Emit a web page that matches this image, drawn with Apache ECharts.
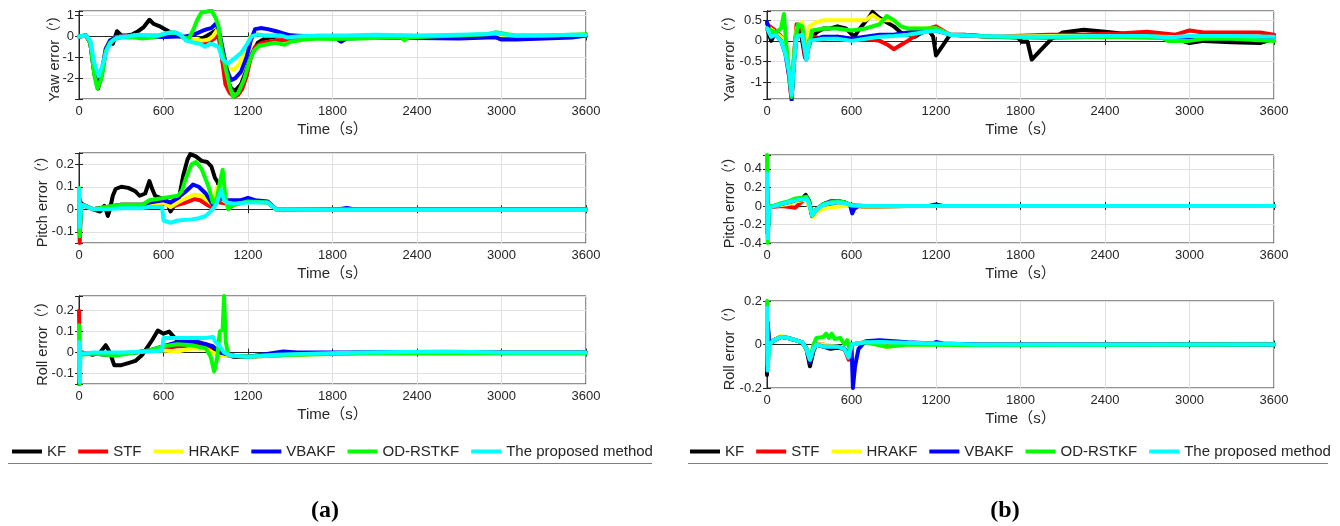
<!DOCTYPE html>
<html><head><meta charset="utf-8">
<script src="https://cdn.jsdelivr.net/npm/echarts@6/dist/echarts.min.js"></script>
<style>html,body{margin:0;padding:0;background:#fff}#c{width:1340px;height:526px}</style>
</head><body><div id="c"></div>
<script>
// ---------- names / colours ----------
const NAMES = ['KF','STF','HRAKF','VBAKF','OD-RSTKF','The proposed method'];
const COLORS = ['#000000','#ff0000','#ffff00','#0000ff','#00ff00','#00ffff'];
const X_TICKS = [0,600,1200,1800,2400,3000,3600];
const Y_TICKS_YAW_A = [-2,-1,0,1];
const Y_TICKS_PITCH_A = [-0.1,0,0.1,0.2];
const Y_TICKS_ROLL_A = [-0.1,0,0.1,0.2];
const Y_TICKS_YAW_B = [-1,-0.5,0,0.5];
const Y_TICKS_PITCH_B = [-0.4,-0.2,0,0.2,0.4];
const Y_TICKS_ROLL_B = [-0.2,0,0.2];

// ---------- (a) Yaw ----------
const yawA_KF = [[0,0],[50,0.05],[80,-0.3],[110,-1.8],[135,-2.5],[160,-1.9],[190,-0.7],[215,-0.3],[240,-0.35],[270,0.25],[300,0.05],[340,0.05],[380,0.1],[420,0.25],[460,0.45],[500,0.8],[530,0.6],[570,0.5],[610,0.35],[650,0.2],[700,0.05],[760,-0.1],[820,-0.2],[860,-0.15],[900,0.0],[940,0.15],[975,0.3],[995,0.1],[1020,-1.2],[1050,-2.0],[1080,-2.5],[1110,-2.6],[1150,-2.3],[1190,-1.6],[1230,-0.8],[1270,-0.3],[1320,-0.1],[1400,0],[1500,0.05],[1700,0.0],[1900,-0.02],[2200,0.0],[2500,-0.02],[2800,0.0],[3000,0.02],[3200,-0.02],[3400,0.0],[3600,0.03]];
const yawA_STF = [[0,0],[50,0.05],[80,-0.3],[110,-1.8],[135,-2.4],[160,-1.8],[190,-0.6],[220,-0.2],[260,-0.05],[300,0],[400,0.05],[500,0.05],[600,0.05],[700,0.05],[760,-0.1],[820,-0.2],[880,-0.3],[910,-0.35],[940,-0.2],[970,-0.05],[990,0.05],[1010,-0.8],[1040,-2.3],[1070,-2.7],[1100,-2.9],[1130,-2.8],[1160,-2.5],[1190,-1.9],[1220,-1.0],[1250,-0.5],[1300,-0.3],[1400,-0.2],[1500,-0.15],[1600,-0.1],[1800,-0.05],[2000,0],[2400,0],[2800,0],[3000,0.05],[3200,0],[3600,0.02]];
const yawA_HRAKF = [[0,0],[50,0.05],[80,-0.3],[110,-1.8],[135,-2.4],[160,-1.8],[190,-0.6],[220,-0.2],[260,-0.05],[300,0],[400,0.05],[500,0.05],[600,0.05],[700,0.05],[760,-0.1],[820,-0.15],[880,-0.2],[920,-0.15],[950,0.0],[980,0.3],[1000,0.1],[1030,-1.0],[1060,-1.5],[1100,-1.6],[1140,-1.3],[1180,-0.7],[1210,-0.1],[1240,0.2],[1270,0.1],[1320,0.05],[1400,0.05],[1600,0],[2000,0],[2400,0],[3000,0.05],[3600,0.05]];
const yawA_VBAKF = [[0,0],[50,0.05],[80,-0.3],[110,-1.8],[135,-2.4],[160,-1.8],[190,-0.6],[220,-0.2],[260,-0.05],[300,0],[400,0.0],[500,0.0],[600,-0.03],[700,0.0],[760,0.0],[820,0.1],[870,0.25],[910,0.35],[940,0.4],[970,0.6],[990,0.4],[1020,-0.6],[1050,-1.6],[1080,-2.1],[1110,-2.0],[1150,-1.7],[1190,-1.0],[1220,-0.2],[1250,0.35],[1290,0.4],[1340,0.35],[1400,0.25],[1450,0.15],[1500,0.05],[1600,-0.02],[1750,-0.05],[1830,-0.1],[1860,-0.25],[1900,-0.1],[2100,-0.05],[2400,-0.08],[2700,-0.1],[2900,-0.05],[2960,-0.05],[3000,-0.15],[3100,-0.15],[3300,-0.1],[3500,-0.05],[3600,0.05]];
const yawA_OD = [[0,0],[50,0.05],[80,-0.3],[110,-1.9],[130,-2.5],[160,-2.0],[190,-0.7],[220,-0.3],[260,-0.1],[300,-0.05],[400,-0.05],[450,-0.1],[520,-0.05],[600,0.1],[650,0.2],[700,0.15],[740,-0.05],[780,-0.1],[810,0.3],[840,0.8],[870,1.15],[910,1.2],[940,1.25],[970,0.9],[990,0.5],[1010,-0.5],[1040,-1.5],[1070,-2.4],[1095,-2.9],[1130,-2.7],[1170,-2.1],[1210,-1.2],[1240,-0.7],[1280,-0.45],[1320,-0.4],[1390,-0.3],[1430,-0.35],[1460,-0.4],[1500,-0.25],[1600,-0.15],[1700,-0.1],[1800,-0.12],[2000,-0.1],[2200,-0.05],[2290,-0.05],[2310,-0.18],[2340,-0.05],[2500,0.0],[2700,0.05],[2900,0.1],[2960,0.2],[3050,0.1],[3100,0.05],[3300,0.05],[3500,0.08],[3600,0.1]];
const yawA_PM = [[0,0],[50,0.05],[80,-0.2],[110,-1.3],[140,-1.9],[170,-1.3],[200,-0.6],[230,-0.25],[270,-0.05],[350,0.0],[420,0.08],[500,0.05],[560,0.05],[620,0.15],[670,0.2],[720,0.1],[760,-0.2],[820,-0.3],[860,-0.35],[895,-0.5],[930,-0.35],[960,-0.4],[990,-0.5],[1020,-1.1],[1060,-1.3],[1095,-1.1],[1150,-0.8],[1190,-0.4],[1225,0.0],[1270,0.1],[1320,0.05],[1430,0.05],[1480,-0.05],[1550,0.0],[1700,0.05],[1900,0.05],[2100,0.08],[2400,0.05],[2700,0.08],[2900,0.12],[2950,0.18],[3000,0.12],[3100,0.03],[3300,0.05],[3500,0.08],[3600,0.07]];

// ---------- (a) Pitch ----------
const pitchA_KF = [[0,0.05],[10,0.03],[30,0.02],[100,0.0],[150,-0.01],[180,0.015],[195,-0.01],[205,-0.03],[220,0.0],[240,0.06],[260,0.09],[300,0.1],[350,0.095],[400,0.08],[430,0.06],[470,0.07],[500,0.125],[520,0.09],[540,0.06],[580,0.05],[620,0.04],[650,-0.01],[680,0.02],[710,0.05],[740,0.15],[770,0.22],[790,0.245],[830,0.235],[870,0.215],[910,0.21],[940,0.19],[965,0.14],[985,0.12],[1000,0.06],[1030,0.03],[1100,0.03],[1200,0.04],[1340,0.03],[1400,0.0],[1600,0.0],[2400,0.0],[3600,-0.002]];
const pitchA_STF = [[0,0.09],[5,-0.15],[15,0.02],[40,0.015],[100,0.0],[200,0.01],[300,0.02],[450,0.02],[600,0.03],[650,0.01],[700,0.02],[760,0.03],[820,0.045],[860,0.04],[910,0.02],[950,0.005],[980,0.06],[1000,0.03],[1050,0.025],[1100,0.02],[1200,0.035],[1340,0.03],[1400,0.0],[2000,0.0],[3600,0.0]];
const pitchA_HRAKF = [[0,0.09],[5,-0.1],[15,0.02],[40,0.015],[100,0.0],[200,0.01],[300,0.02],[450,0.02],[600,0.03],[650,0.01],[700,0.03],[760,0.05],[820,0.065],[870,0.06],[910,0.04],[950,0.02],[980,0.1],[1000,0.05],[1050,0.03],[1100,0.02],[1200,0.035],[1340,0.03],[1400,0.0],[2000,0.0],[3600,0.0]];
const pitchA_VBAKF = [[0,0.09],[5,-0.1],[15,0.02],[40,0.015],[100,0.0],[200,0.01],[300,0.02],[450,0.02],[500,0.03],[600,0.04],[650,0.03],[700,0.05],[760,0.08],[810,0.11],[850,0.1],[900,0.07],[950,0.02],[1000,0.05],[1050,0.04],[1150,0.04],[1200,0.05],[1250,0.04],[1340,0.035],[1400,0.0],[1850,0.0],[1900,0.006],[1950,0.0],[3600,0.0]];
const pitchA_OD = [[0,0.095],[5,-0.12],[15,0.02],[40,0.015],[100,0.0],[200,0.01],[300,0.02],[450,0.02],[500,0.04],[600,0.05],[700,0.06],[730,0.08],[760,0.14],[800,0.2],[830,0.21],[870,0.18],[920,0.1],[950,0.03],[980,0.05],[1000,0.12],[1020,0.175],[1040,0.05],[1060,0.0],[1100,0.02],[1200,0.035],[1340,0.03],[1400,0.0],[2000,0.0],[3600,0.0]];
const pitchA_PM = [[0,0.09],[5,-0.08],[15,0.02],[40,0.015],[100,0.0],[200,0.0],[300,0.005],[450,0.005],[500,0.01],[590,0.01],[600,-0.05],[650,-0.06],[700,-0.05],[800,-0.045],[850,-0.04],[900,-0.03],[950,0.0],[980,0.03],[1010,0.085],[1030,0.04],[1050,0.03],[1100,0.025],[1200,0.03],[1340,0.03],[1400,0.0],[1800,-0.003],[2400,-0.003],[3000,-0.003],[3600,-0.003]];

// ---------- (a) Roll ----------
const rollA_KF = [[0,0.0],[20,0.0],[100,-0.01],[150,0.0],[190,0.035],[220,0.0],[250,-0.06],[300,-0.06],[350,-0.05],[400,-0.04],[450,-0.01],[480,0.02],[520,0.06],[560,0.105],[600,0.09],[640,0.1],[680,0.07],[720,0.05],[800,0.04],[900,0.04],[950,0.02],[1000,0.0],[1100,-0.02],[1200,-0.02],[1500,-0.01],[2000,0.0],[3600,0.0]];
const rollA_STF = [[0,0.2],[5,0.0],[20,-0.005],[100,-0.005],[200,-0.01],[300,-0.005],[400,0.0],[500,0.01],[600,0.02],[700,0.03],[800,0.03],[900,0.03],[950,0.0],[1000,-0.01],[1100,-0.015],[1200,-0.02],[1300,-0.015],[1500,-0.01],[1700,-0.005],[2400,0.0],[3600,0.0]];
const rollA_HRAKF = [[0,0.1],[5,0.0],[20,-0.005],[100,-0.005],[200,-0.01],[300,-0.005],[400,0.0],[500,0.01],[600,0.01],[700,0.005],[800,0.02],[900,0.02],[950,0.0],[1000,-0.01],[1100,-0.015],[1200,-0.02],[1500,-0.01],[2400,0.0],[3600,0.0]];
const rollA_VBAKF = [[0,-0.15],[5,0.0],[20,-0.005],[100,-0.005],[200,-0.01],[300,-0.005],[400,0.0],[500,0.01],[600,0.03],[700,0.05],[850,0.05],[950,0.03],[1000,0.0],[1100,-0.015],[1200,-0.02],[1300,-0.01],[1450,0.005],[1550,0.0],[2000,0.0],[3600,0.0]];
const rollA_OD = [[0,0.13],[4,-0.15],[10,0.0],[20,-0.01],[100,-0.005],[200,-0.01],[250,-0.015],[400,0.0],[500,0.01],[600,0.03],[700,0.04],[800,0.035],[900,0.02],[935,-0.02],[960,-0.09],[980,-0.03],[1000,0.1],[1020,0.11],[1030,0.27],[1042,0.05],[1060,-0.01],[1100,-0.015],[1200,-0.02],[1300,-0.015],[1500,-0.01],[2000,-0.005],[3600,-0.005]];
const rollA_PM = [[0,0.05],[4,-0.14],[10,-0.005],[20,-0.01],[100,0.0],[200,0.0],[300,0.0],[500,0.005],[590,0.01],[600,0.07],[700,0.07],[900,0.07],[950,0.075],[970,0.05],[1000,0.03],[1030,0.0],[1060,-0.01],[1100,-0.015],[1200,-0.02],[1400,-0.01],[1700,-0.005],[2000,0.0],[2600,0.005],[3000,0.0],[3600,0.0]];

// ---------- (b) Yaw ----------
const yawB_KF = [[0,0.3],[30,0.0],[60,0.2],[100,0.1],[130,-0.2],[160,-0.8],[175,-1.35],[190,-0.5],[210,0.3],[240,0.2],[270,-0.4],[300,0.0],[350,0.2],[400,0.3],[450,0.3],[500,0.35],[560,0.3],[620,0.1],[660,0.3],[720,0.55],[750,0.7],[780,0.6],[800,0.55],[850,0.45],[900,0.35],[950,0.2],[1000,0.15],[1050,0.1],[1100,0.2],[1150,0.25],[1180,0.1],[1200,-0.35],[1250,-0.1],[1300,0.15],[1400,0.15],[1600,0.1],[1780,0.08],[1810,-0.02],[1850,-0.02],[1880,-0.45],[1950,-0.2],[2020,0.05],[2100,0.2],[2250,0.27],[2400,0.22],[2600,0.15],[2800,0.1],[2850,0.0],[2950,0.0],[3000,-0.05],[3100,0.0],[3300,-0.03],[3500,-0.05],[3600,0.05]];
const yawB_STF = [[0,0.4],[60,0.25],[130,0.0],[170,-1.3],[210,0.4],[250,0.3],[270,-0.4],[320,0.1],[400,0.05],[500,0.1],[600,0.05],[700,0.05],[800,0.0],[860,-0.1],[900,-0.2],[950,-0.1],[1000,0.0],[1100,0.25],[1200,0.35],[1300,0.15],[1600,0.1],[2000,0.15],[2200,0.15],[2500,0.18],[2700,0.22],[2900,0.15],[3000,0.25],[3100,0.2],[3300,0.2],[3500,0.2],[3600,0.15]];
const yawB_HRAKF = [[0,0.35],[60,0.2],[130,0.0],[170,-1.2],[210,0.3],[250,0.45],[280,-0.2],[300,0.35],[350,0.45],[400,0.5],[500,0.5],[600,0.5],[700,0.5],[750,0.62],[800,0.5],[900,0.5],[950,0.35],[1000,0.3],[1100,0.3],[1200,0.3],[1300,0.15],[1600,0.1],[2000,0.12],[2400,0.12],[2800,0.1],[3000,0.08],[3300,0.08],[3600,0.05]];
const yawB_VBAKF = [[0,0.45],[30,0.1],[60,0.15],[100,0.0],[130,-0.3],[160,-0.9],[175,-1.42],[190,-0.6],[210,0.1],[250,0.15],[280,-0.45],[300,0.0],[400,0.1],[500,0.1],[600,0.05],[700,0.1],[800,0.15],[900,0.15],[1000,0.2],[1100,0.25],[1200,0.25],[1300,0.15],[1600,0.1],[2000,0.08],[2400,0.1],[2800,0.08],[3000,0.05],[3300,0.05],[3600,0.1]];
const yawB_OD = [[0,0.3],[60,0.2],[100,0.3],[120,0.65],[140,-0.2],[175,-1.35],[200,0.0],[220,0.4],[250,0.35],[280,-0.4],[320,0.25],[400,0.3],[500,0.3],[600,0.25],[700,0.3],[800,0.4],[850,0.6],[900,0.5],[950,0.35],[1000,0.3],[1100,0.3],[1200,0.3],[1300,0.15],[1600,0.1],[2000,0.08],[2400,0.1],[2800,0.08],[2850,0.0],[3000,0.0],[3100,0.05],[3300,0.05],[3600,0.0]];
const yawB_PM = [[0,0.3],[30,0.1],[60,0.15],[100,0.0],[130,-0.3],[160,-0.8],[175,-1.3],[190,-0.6],[210,0.1],[250,0.15],[280,-0.45],[300,0.0],[400,0.05],[500,0.05],[600,0.0],[700,0.05],[800,0.1],[900,0.12],[1000,0.15],[1100,0.2],[1200,0.25],[1300,0.15],[1500,0.12],[1800,0.1],[2000,0.1],[2400,0.12],[2700,0.12],[2850,0.08],[3000,0.12],[3300,0.12],[3600,0.1]];

// ---------- (b) Pitch ----------
const pitchB_KF = [[0,0.3],[5,-0.3],[15,0.0],[50,0.0],[100,0.02],[150,0.04],[200,0.07],[250,0.08],[275,0.12],[300,0.05],[320,-0.11],[350,-0.04],[380,-0.02],[400,0.02],[450,0.04],[500,0.05],[550,0.04],[580,0.01],[650,0.0],[700,-0.005],[1000,0.0],[3600,0.0]];
const pitchB_STF = [[0,0.3],[5,-0.3],[15,-0.02],[50,-0.01],[100,0.0],[150,-0.01],[200,-0.02],[250,0.05],[280,0.08],[300,0.03],[320,-0.1],[350,-0.05],[400,0.0],[450,0.02],[500,0.04],[550,0.03],[600,0.0],[700,-0.005],[1000,0.0],[3600,0.0]];
const pitchB_HRAKF = [[0,0.3],[5,-0.3],[15,-0.01],[50,0.0],[100,0.01],[150,0.02],[200,0.05],[250,0.06],[280,0.07],[300,-0.02],[330,-0.12],[360,-0.06],[400,-0.03],[450,-0.02],[500,-0.01],[550,0.0],[600,0.0],[700,-0.005],[1000,0.0],[3600,0.0]];
const pitchB_VBAKF = [[0,0.3],[5,-0.3],[15,0.0],[50,0.0],[100,0.02],[150,0.04],[200,0.06],[250,0.07],[280,0.09],[300,0.03],[320,-0.1],[350,-0.04],[400,0.02],[450,0.05],[500,0.05],[550,0.04],[590,0.01],[605,-0.08],[620,-0.03],[650,0.0],[700,0.0],[1150,0.0],[1200,0.015],[1250,0.0],[3600,0.0]];
const pitchB_OD = [[0,0.55],[5,-0.4],[15,0.0],[50,0.0],[100,0.03],[150,0.05],[200,0.08],[250,0.09],[280,0.1],[300,0.04],[320,-0.1],[350,-0.04],[400,0.02],[450,0.04],[500,0.05],[550,0.04],[600,0.01],[700,0.0],[1000,0.0],[3600,0.0]];
const pitchB_PM = [[0,0.35],[5,-0.35],[15,-0.02],[50,0.0],[100,0.02],[150,0.04],[200,0.06],[250,0.07],[280,0.08],[300,0.02],[320,-0.1],[350,-0.04],[400,0.01],[450,0.03],[500,0.04],[550,0.03],[600,0.005],[700,0.0],[1000,0.0],[3600,0.0]];

// ---------- (b) Roll ----------
const rollB_KF = [[0,-0.14],[5,0.1],[15,0.0],[50,0.02],[100,0.035],[150,0.03],[200,0.02],[250,0.01],[280,-0.02],[305,-0.1],[330,-0.03],[350,0.0],[400,-0.01],[450,-0.02],[500,-0.015],[550,-0.02],[580,-0.06],[600,0.0],[650,0.005],[700,0.01],[800,0.01],[1000,0.005],[1500,0.0],[3600,0.0]];
const rollB_STF = [[0,0.15],[5,-0.1],[15,0.0],[50,0.02],[100,0.035],[150,0.03],[200,0.02],[250,0.01],[280,-0.02],[305,-0.08],[330,-0.02],[350,0.0],[400,0.0],[450,-0.01],[500,-0.01],[550,-0.02],[580,-0.07],[600,0.0],[700,0.01],[1000,0.005],[1500,0.0],[3600,0.0]];
const rollB_HRAKF = [[0,0.15],[5,-0.1],[15,0.0],[50,0.02],[100,0.04],[150,0.03],[200,0.02],[250,0.01],[280,-0.02],[305,-0.07],[330,-0.02],[350,0.0],[400,0.0],[500,-0.01],[550,-0.02],[580,-0.05],[600,0.0],[700,0.01],[850,-0.01],[1000,0.0],[3600,0.0]];
const rollB_VBAKF = [[0,-0.12],[5,0.1],[15,0.0],[50,0.02],[100,0.035],[150,0.03],[200,0.02],[250,0.01],[280,-0.02],[305,-0.08],[330,-0.02],[350,0.0],[400,-0.01],[500,-0.01],[550,-0.02],[580,-0.04],[600,0.0],[610,-0.2],[625,-0.1],[650,-0.02],[700,0.015],[800,0.02],[1000,0.01],[1180,0.005],[1200,0.012],[1250,0.005],[1500,0.0],[3600,0.0]];
const rollB_OD = [[0,0.2],[5,-0.1],[15,0.0],[50,0.02],[100,0.035],[150,0.03],[200,0.02],[250,0.01],[280,-0.02],[305,-0.07],[330,0.0],[350,0.03],[400,0.035],[420,0.05],[440,0.03],[460,0.05],[480,0.025],[520,0.03],[550,0.0],[570,0.02],[590,-0.03],[600,0.0],[700,0.01],[850,-0.01],[1000,0.0],[1500,-0.003],[3600,0.0]];
const rollB_PM = [[0,0.17],[5,-0.12],[15,0.0],[50,0.02],[100,0.035],[150,0.03],[200,0.02],[250,0.01],[280,-0.02],[305,-0.07],[330,-0.02],[350,0.0],[400,-0.01],[500,-0.01],[550,-0.02],[580,-0.06],[600,0.0],[700,0.01],[800,0.012],[1000,0.008],[1500,0.0],[3600,0.0]];

// ---------- layout ----------
const FONT = '"Liberation Sans", Arial, "Noto Sans CJK SC", sans-serif';
const TXT = '#262626';
const PANELS = [
  {grid:{left:79,top:11,width:507,height:88}, name:'Yaw error（′）', min:-3, max:1.22, split:4, ticks:Y_TICKS_YAW_A, gap:17,
   data:[yawA_KF,yawA_STF,yawA_HRAKF,yawA_VBAKF,yawA_OD,yawA_PM]},
  {grid:{left:79,top:153,width:507,height:90}, name:'Pitch error（′）', min:-0.15, max:0.25, split:4, ticks:Y_TICKS_PITCH_A, gap:29,
   data:[pitchA_KF,pitchA_STF,pitchA_HRAKF,pitchA_VBAKF,pitchA_OD,pitchA_PM]},
  {grid:{left:79,top:296,width:507,height:88}, name:'Roll error（′）', min:-0.15, max:0.27, split:4, ticks:Y_TICKS_ROLL_A, gap:29,
   data:[rollA_KF,rollA_STF,rollA_HRAKF,rollA_VBAKF,rollA_OD,rollA_PM]},
  {grid:{left:767,top:11,width:507,height:88}, name:'Yaw error（′）', min:-1.4, max:0.72, split:4, ticks:Y_TICKS_YAW_B, gap:30,
   data:[yawB_KF,yawB_STF,yawB_HRAKF,yawB_VBAKF,yawB_OD,yawB_PM]},
  {grid:{left:767,top:155,width:507,height:88}, name:'Pitch error（′）', min:-0.4, max:0.55, split:5, ticks:Y_TICKS_PITCH_B, gap:30,
   data:[pitchB_KF,pitchB_STF,pitchB_HRAKF,pitchB_VBAKF,pitchB_OD,pitchB_PM]},
  {grid:{left:767,top:301,width:507,height:87}, name:'Roll error（′）', min:-0.2, max:0.2, split:2, ticks:Y_TICKS_ROLL_B, gap:30,
   data:[rollB_KF,rollB_STF,rollB_HRAKF,rollB_VBAKF,rollB_OD,rollB_PM]}
];

function fmt(v){ return String(+v.toFixed(3)); }
function inTicks(ticks, v){ return ticks.some(t => Math.abs(t - v) < 1e-7); }

const grid = [], xAxis = [], yAxis = [], series = [];
PANELS.forEach((p, i) => {
  grid.push(Object.assign({show:true, borderColor:TXT, borderWidth:1, backgroundColor:'#fff'}, p.grid));
  xAxis.push({
    type:'value', gridIndex:i, min:0, max:3600, interval:600, position:'bottom',
    name:'Time（s）', nameLocation:'middle', nameGap:23, nameMoveOverlap:false,
    nameTextStyle:{fontFamily:FONT, fontSize:15, color:TXT},
    axisLine:{show:true, lineStyle:{color:TXT, width:1}},
    axisTick:{show:true, inside:true, length:4, lineStyle:{color:TXT}},
    axisLabel:{fontFamily:FONT, fontSize:13, color:TXT, margin:6,
      formatter:v => inTicks(X_TICKS, v) ? fmt(v) : ''},
    splitLine:{show:true, lineStyle:{color:'#e0e0e0', width:1}}
  });
  yAxis.push({
    type:'value', gridIndex:i, min:p.min, max:p.max, splitNumber:p.split, position:'left',
    name:p.name, nameLocation:'middle', nameGap:p.gap, nameMoveOverlap:false,
    nameTextStyle:{fontFamily:FONT, fontSize:14.5, color:TXT},
    axisLine:{show:true, lineStyle:{color:TXT, width:1}},
    axisTick:{show:true, inside:true, length:4, lineStyle:{color:TXT}},
    axisLabel:{fontFamily:FONT, fontSize:13, color:TXT, margin:5, showMinLabel:true, showMaxLabel:true,
      formatter:v => inTicks(p.ticks, v) ? fmt(v) : ''},
    splitLine:{show:true, lineStyle:{color:'#e0e0e0', width:1}}
  });
  p.data.forEach((d, k) => {
    series.push({
      type:'line', name:NAMES[k], xAxisIndex:i, yAxisIndex:i, data:d,
      symbol:'none', showSymbol:false, animation:false, clip:true,
      lineStyle:{color:COLORS[k], width:4, join:'round', cap:'round'},
      itemStyle:{color:COLORS[k]}, z:2
    });
  });
});
// mirror axes (top / right) for MATLAB box ticks
PANELS.forEach((p, i) => {
  xAxis.push({type:'value', gridIndex:i, min:0, max:3600, interval:600, position:'top',
    axisLine:{show:true, lineStyle:{color:TXT}}, axisTick:{show:true, inside:true, length:4, lineStyle:{color:TXT}},
    axisLabel:{show:false}, splitLine:{show:false}});
  yAxis.push({type:'value', gridIndex:i, min:p.min, max:p.max, splitNumber:p.split, position:'right',
    axisLine:{show:true, lineStyle:{color:TXT}}, axisTick:{show:true, inside:true, length:4, lineStyle:{color:TXT}},
    axisLabel:{show:false}, splitLine:{show:false}});
});

const legendBase = {
  data:NAMES, icon:'rect', itemWidth:30, itemHeight:4, itemGap:12, top:444, padding:0,
  textStyle:{fontFamily:FONT, fontSize:15, color:TXT},
  selectedMode:false
};

const option = {
  backgroundColor:'#ffffff',
  animation:false,
  grid, xAxis, yAxis, series,
  legend:[Object.assign({left:12}, legendBase), Object.assign({left:690}, legendBase)],
  graphic:[
    {type:'line', shape:{x1:8, y1:463.5, x2:652, y2:463.5}, style:{stroke:'#7f7f7f', lineWidth:1}},
    {type:'line', shape:{x1:688, y1:463.5, x2:1328, y2:463.5}, style:{stroke:'#7f7f7f', lineWidth:1}},
    {type:'text', x:325, y:511, style:{text:'(a)', font:'bold 24px "Liberation Serif", "DejaVu Serif", serif', fill:'#000', align:'center', verticalAlign:'middle'}},
    {type:'text', x:1005, y:511, style:{text:'(b)', font:'bold 24px "Liberation Serif", "DejaVu Serif", serif', fill:'#000', align:'center', verticalAlign:'middle'}}
  ]
};
const chart = echarts.init(document.getElementById('c'), null, {renderer:'canvas'});
chart.setOption(option);
</script>
</body></html>
